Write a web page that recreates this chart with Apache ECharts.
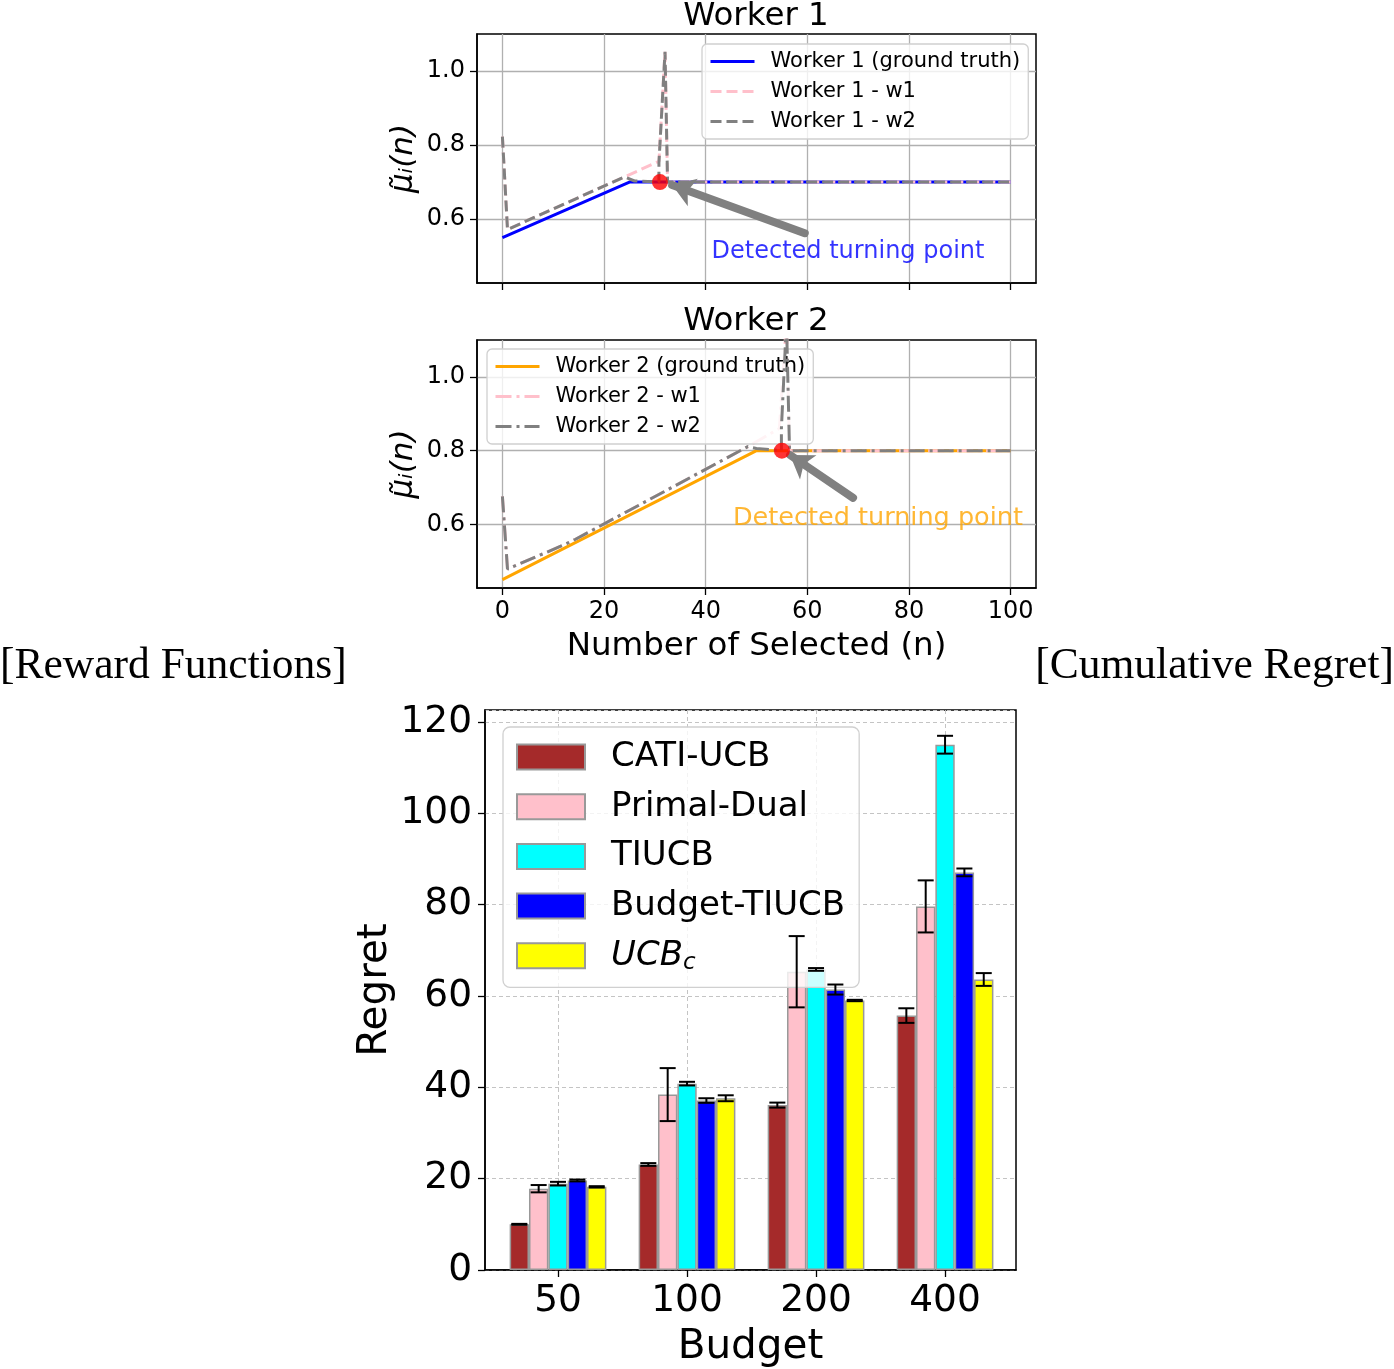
<!DOCTYPE html>
<html>
<head>
<meta charset="utf-8">
<script src="https://cdn.jsdelivr.net/npm/echarts@6/dist/echarts.min.js"></script>
<style>
  html, body { margin: 0; padding: 0; background: #fff; }
  #chart { width: 1394px; height: 1369px; }
</style>
</head>
<body>
<div id="chart"></div>
<script>
// ---- reward functions (top panels) ----
const worker1Truth = [[0, 0.55], [25, 0.70], [100, 0.70]];
const worker1W1 = [[0, 0.823], [1, 0.572], [24, 0.714], [30.8, 0.756], [32, 1.052], [32.5, 0.70], [100, 0.70]];
const worker1W2 = [[0, 0.823], [1, 0.572], [24, 0.714], [26, 0.703], [30.8, 0.70], [30.8, 0.752], [32, 1.052], [32.5, 0.70], [100, 0.70]];
const worker1Turn = [[31, 0.70]];
const worker1Arrow = [[59.5, 0.562], [33.4, 0.692]];
const worker1Text = [[68, 0.511]];

const worker2Truth = [[0, 0.45], [50, 0.80], [100, 0.80]];
const worker2W1 = [[0, 0.676], [1, 0.479], [12.2, 0.545], [14.3, 0.559], [48.3, 0.811], [54.5, 0.86], [55.9, 1.15], [56.5, 0.80], [100, 0.80]];
const worker2W2 = [[0, 0.676], [1, 0.479], [12.2, 0.545], [14.3, 0.559], [48.3, 0.811], [50, 0.806], [54.9, 0.80], [54.9, 0.86], [55.9, 1.15], [56.5, 0.80], [100, 0.80]];
const worker2Turn = [[55, 0.80]];
const worker2Arrow = [[69, 0.672], [56.6, 0.788]];
const worker2Text = [[73.9, 0.616]];

const nTicks = [0, 20, 40, 60, 80, 100];
const muTicks = [0.6, 0.8, 1.0];

// ---- cumulative regret (bottom panel) ----
const budgets = ['50', '100', '200', '400'];
const methods = ['CATI-UCB', 'Primal-Dual', 'TIUCB', 'Budget-TIUCB', 'UCBc'];
const catiUcb = [10.0, 23.1, 36.1, 55.7];
const catiUcbErr = [0.1, 0.3, 0.55, 1.6];
const primalDual = [17.8, 38.4, 65.3, 79.6];
const primalDualErr = [0.8, 5.8, 7.8, 5.7];
const tiucb = [18.9, 40.8, 65.8, 115.0];
const tiucbErr = [0.4, 0.4, 0.3, 1.95];
const budgetTiucb = [19.6, 37.1, 61.4, 87.05];
const budgetTiucbErr = [0.2, 0.5, 1.1, 0.85];
const ucbC = [18.2, 37.6, 59.0, 63.6];
const ucbCErr = [0.15, 0.65, 0.15, 1.4];

const barMeans = [catiUcb, primalDual, tiucb, budgetTiucb, ucbC];
const barErrs = [catiUcbErr, primalDualErr, tiucbErr, budgetTiucbErr, ucbCErr];
const barColors = ['#a52a2a', '#ffc0cb', '#00ffff', '#0000ff', '#ffff00'];
const BAR_W = 19.35;

const FONT = 'DejaVu Sans';
const chart = echarts.init(document.getElementById('chart'));

function lineAxisX(idx, showLabels) {
  return {
    type: 'value', gridIndex: idx, min: -5, max: 105,
    axisLine: { show: true, onZero: false, lineStyle: { color: '#000', width: 1.5 } },
    axisTick: { show: true, customValues: nTicks, length: 7, lineStyle: { color: '#000', width: 1.3 } },
    axisLabel: { show: showLabels, customValues: nTicks, fontFamily: FONT, fontSize: 24, color: '#000', margin: 12 },
    splitLine: { show: true, lineStyle: { color: '#b0b0b0', width: 1.3 } },
    name: showLabels ? 'Number of Selected (n)' : '',
    nameLocation: 'middle', nameGap: 42,
    nameTextStyle: { fontFamily: FONT, fontSize: 32.5, color: '#000' }
  };
}
function lineAxisY(idx) {
  return {
    type: 'value', gridIndex: idx, min: 0.4275, max: 1.1,
    axisLine: { show: true, onZero: false, lineStyle: { color: '#000', width: 1.5 } },
    axisTick: { show: true, customValues: muTicks, length: 7, lineStyle: { color: '#000', width: 1.3 } },
    axisLabel: { customValues: muTicks, formatter: v => v.toFixed(1), fontFamily: FONT, fontSize: 24, color: '#000', margin: 12 },
    splitLine: { show: true, lineStyle: { color: '#b0b0b0', width: 1.3 } },
    name: 'μ̃ᵢ(n)', nameLocation: 'middle', nameRotate: 90, nameGap: 58,
    nameTextStyle: { fontFamily: FONT, fontSize: 31, fontStyle: 'italic', color: '#000' }
  };
}
function lineSeries(name, data, idx, color, dash, z) {
  return {
    name, type: 'line', xAxisIndex: idx, yAxisIndex: idx, data,
    symbol: 'none', z,
    lineStyle: { color, width: 3, type: dash },
    itemStyle: { color }
  };
}
function annotation(idx, textPos, arrow, color, size) {
  return {
    type: 'scatter', xAxisIndex: idx, yAxisIndex: idx, data: textPos,
    symbolSize: 0, z: 6, silent: true,
    label: { show: true, position: 'inside', formatter: 'Detected turning point',
      fontFamily: FONT, fontSize: size, color },
    markLine: {
      silent: true, symbol: ['none', 'arrow'], symbolSize: 22,
      label: { show: false },
      lineStyle: { color: '#808080', width: 8, type: 'solid', cap: 'round' },
      itemStyle: { color: '#808080' },
      data: [[{ coord: arrow[0] }, { coord: arrow[1] }]]
    }
  };
}
function turnPoint(idx, data) {
  return { type: 'scatter', xAxisIndex: idx, yAxisIndex: idx, data, symbolSize: 16, z: 7,
    itemStyle: { color: '#ff0000' }, silent: true };
}
const lineLegend = (left, top, names) => ({
  data: names, left, top, orient: 'vertical',
  itemWidth: 44, itemHeight: 14, itemGap: 9,
  padding: [7, 8, 7, 7],
  itemStyle: { opacity: 0 },
  lineStyle: { width: 3 },
  backgroundColor: 'rgba(255,255,255,0.8)', borderColor: '#d0d0d0', borderWidth: 1.3, borderRadius: 5,
  textStyle: { fontFamily: FONT, fontSize: 21, color: '#000', padding: [0, 0, 0, 11] },
  selectedMode: false
});

const barSeries = methods.map((m, k) => ({
  name: m, type: 'bar', xAxisIndex: 2, yAxisIndex: 2,
  data: barMeans[k].map((v, i) => [i, v]),
  barWidth: BAR_W, barGap: '0%', z: 3,
  itemStyle: { color: barColors[k], borderColor: '#999999', borderWidth: 1.5 }
}));

const errData = [];
barMeans.forEach((arr, k) => arr.forEach((v, i) => errData.push([i, k, v, barErrs[k][i]])));

const errorSeries = {
  type: 'custom', xAxisIndex: 2, yAxisIndex: 2, data: errData, z: 4, silent: true,
  renderItem: function (params, api) {
    const i = api.value(0), k = api.value(1), m = api.value(2), e = api.value(3);
    const lo = api.coord([i, m - e]);
    const hi = api.coord([i, m + e]);
    const x = lo[0] + (k - 2) * BAR_W;
    const cap = 8;
    const st = { stroke: '#000', lineWidth: 2, fill: null };
    return {
      type: 'group',
      children: [
        { type: 'line', shape: { x1: x, y1: lo[1], x2: x, y2: hi[1] }, style: st },
        { type: 'line', shape: { x1: x - cap, y1: lo[1], x2: x + cap, y2: lo[1] }, style: st },
        { type: 'line', shape: { x1: x - cap, y1: hi[1], x2: x + cap, y2: hi[1] }, style: st }
      ]
    };
  }
};

const option = {
  animation: false,
  backgroundColor: '#fff',
  grid: [
    { left: 477, top: 34, width: 559, height: 249, show: true, borderColor: '#000', borderWidth: 1.5, backgroundColor: 'transparent' },
    { left: 477, top: 340, width: 559, height: 248, show: true, borderColor: '#000', borderWidth: 1.5, backgroundColor: 'transparent' },
    { left: 485, top: 710, width: 531, height: 565, show: true, borderColor: '#000', borderWidth: 1.5, backgroundColor: 'transparent' }
  ],
  xAxis: [
    lineAxisX(0, false),
    lineAxisX(1, true),
    {
      type: 'value', gridIndex: 2, min: -0.566, max: 3.55,
      axisLine: { show: true, onZero: false, lineStyle: { color: '#000', width: 1.5 } },
      axisTick: { show: true, customValues: [0, 1, 2, 3], length: 7, lineStyle: { color: '#000', width: 1.3 } },
      axisLabel: { customValues: [0, 1, 2, 3], formatter: v => budgets[v], fontFamily: FONT, fontSize: 37.5, color: '#000', margin: 12 },
      splitLine: { show: true, lineStyle: { color: '#c4c4c4', width: 1, type: [4, 3] } },
      name: 'Budget', nameLocation: 'middle', nameGap: 57,
      nameTextStyle: { fontFamily: FONT, fontSize: 40.5, color: '#000' }
    }
  ],
  yAxis: [
    lineAxisY(0),
    lineAxisY(1),
    {
      type: 'value', gridIndex: 2, min: 0, max: 122.6, interval: 20,
      axisLine: { show: true, onZero: false, lineStyle: { color: '#000', width: 1.5 } },
      axisTick: { show: true, length: 7, lineStyle: { color: '#000', width: 1.3 } },
      axisLabel: { fontFamily: FONT, fontSize: 37.5, color: '#000', margin: 13,
        showMaxLabel: false },
      splitLine: { show: true, lineStyle: { color: '#c4c4c4', width: 1, type: [4, 3] } },
      name: 'Regret', nameLocation: 'middle', nameRotate: 90, nameGap: 89,
      nameTextStyle: { fontFamily: FONT, fontSize: 40.5, color: '#000' }
    }
  ],
  legend: [
    lineLegend(702, 44, ['Worker 1 (ground truth)', 'Worker 1 - w1', 'Worker 1 - w2']),
    lineLegend(487, 349, ['Worker 2 (ground truth)', 'Worker 2 - w1', 'Worker 2 - w2']),
    {
      data: methods, left: 503, top: 727, orient: 'vertical',
      icon: 'rect', itemWidth: 68, itemHeight: 25, itemGap: 15.7,
      padding: [13, 14, 13, 13],
      backgroundColor: 'rgba(255,255,255,0.8)', borderColor: '#d0d0d0', borderWidth: 1.3, borderRadius: 7,
      selectedMode: false,
      formatter: n => n === 'UCBc' ? '{it|UCB}{sub|c}' : n,
      textStyle: {
        fontFamily: FONT, fontSize: 34, color: '#000', padding: [0, 0, 0, 21],
        rich: {
          it: { fontFamily: FONT, fontSize: 34, fontStyle: 'italic', color: '#000' },
          sub: { fontFamily: FONT, fontSize: 23, fontStyle: 'italic', color: '#000', padding: [14, 0, 0, 0] }
        }
      }
    }
  ],
  graphic: [
    { type: 'text', x: 756, y: 17, style: { text: 'Worker 1', fontFamily: FONT, fontSize: 32.5, fill: '#000', align: 'center', verticalAlign: 'middle' } },
    { type: 'text', x: 756, y: 322, style: { text: 'Worker 2', fontFamily: FONT, fontSize: 32.5, fill: '#000', align: 'center', verticalAlign: 'middle' } },
    { type: 'text', x: 0, y: 667, style: { text: '[Reward Functions]', fontFamily: 'Liberation Serif', fontSize: 43.5, fill: '#000', align: 'left', verticalAlign: 'middle' } },
    { type: 'text', x: 1394, y: 667, style: { text: '[Cumulative Regret]', fontFamily: 'Liberation Serif', fontSize: 43.5, fill: '#000', align: 'right', verticalAlign: 'middle' } }
  ],
  series: [
    lineSeries('Worker 1 (ground truth)', worker1Truth, 0, '#0000ff', 'solid', 2),
    lineSeries('Worker 1 - w1', worker1W1, 0, '#ffc0cb', [11, 5], 3),
    lineSeries('Worker 1 - w2', worker1W2, 0, '#808080', [11, 5], 4),
    annotation(0, worker1Text, worker1Arrow, '#0000ff', 24),
    turnPoint(0, worker1Turn),
    lineSeries('Worker 2 (ground truth)', worker2Truth, 1, '#ffa500', 'solid', 2),
    lineSeries('Worker 2 - w1', worker2W1, 1, '#ffc0cb', [16, 5, 3, 5], 3),
    lineSeries('Worker 2 - w2', worker2W2, 1, '#808080', [16, 5, 3, 5], 4),
    annotation(1, worker2Text, worker2Arrow, '#ffa500', 25.5),
    turnPoint(1, worker2Turn),
    ...barSeries,
    errorSeries
  ]
};
chart.setOption(option);
</script>
</body>
</html>
